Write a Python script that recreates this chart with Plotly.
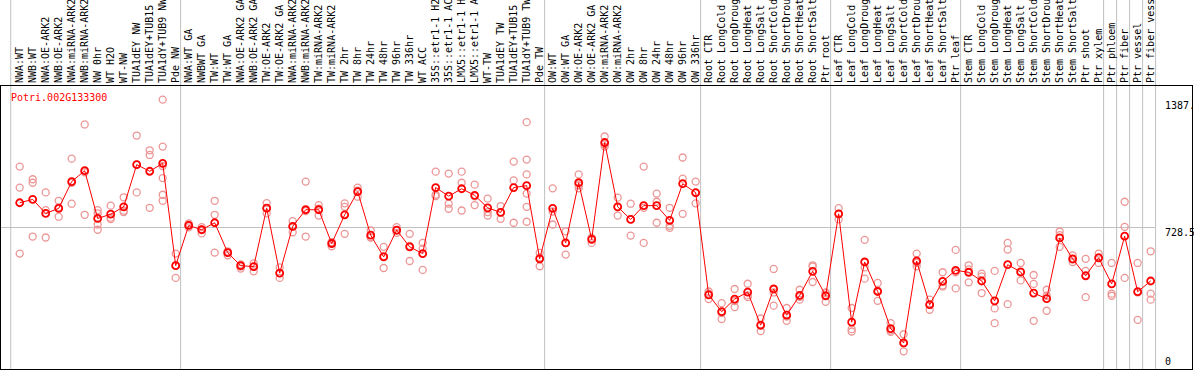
import plotly.graph_objects as go

gene_id = "Potri.002G133300"

categories = [
    "NWA:WT", "NWB:WT", "NWA:OE-ARK2", "NWB:OE-ARK2", "NWA:miRNA-ARK2", "NWB:miRNA-ARK2",
    "NW 0hr", "WT H2O", "WT-NW", "TUA1dEY NW", "TUA1dEY+TUB15 NW", "TUA1dY+TUB9 NW", "Pde NW",
    "NWA:WT GA", "NWBWT GA", "TW:WT", "TW:WT GA", "NWA:OE-ARK2 GA", "NWB:OE-ARK2 GA",
    "TW:OE-ARK2", "TW:OE-ARK2 GA", "NWA:miRNA-ARK2", "NWB:miRNA-ARK2", "TW:miRNA-ARK2",
    "TW:miRNA-ARK2", "TW 2hr", "TW 8hr", "TW 24hr", "TW 48hr", "TW 96hr", "TW 336hr",
    "WT ACC", "35S::etr1-1 H2O", "35S::etr1-1 ACC", "LMX5::etr1-1 H2O", "LMX5::etr1-1 ACC",
    "WT-TW", "TUA1dEY TW", "TUA1dEY+TUB15 TW", "TUA1dY+TUB9 TW", "Pde TW",
    "OW:WT", "OW:WT GA", "OW:OE-ARK2", "OW:OE-ARK2 GA", "OW:miRNA-ARK2", "OW:miRNA-ARK2",
    "OW 2hr", "OW 8hr", "OW 24hr", "OW 48hr", "OW 96hr", "OW 336hr",
    "Root CTR", "Root LongCold", "Root LongDrought", "Root LongHeat", "Root LongSalt",
    "Root ShortCold", "Root ShortDrought", "Root ShortHeat", "Root ShortSalt", "Ptr root",
    "Leaf CTR", "Leaf LongCold", "Leaf LongDrought", "Leaf LongHeat", "Leaf LongSalt",
    "Leaf ShortCold", "Leaf ShortDrought", "Leaf ShortHeat", "Leaf ShortSalt", "Ptr leaf",
    "Stem CTR", "Stem LongCold", "Stem LongDrought", "Stem LongHeat", "Stem LongSalt",
    "Stem ShortCold", "Stem ShortDrought", "Stem ShortHeat", "Stem ShortSalt", "Ptr shoot",
    "Ptr xylem", "Ptr phloem", "Ptr fiber", "Ptr vessel", "Ptr fiber vessel",
]

mean_values = [
    856, 873, 801, 827, 965, 1021, 775, 797, 835, 1052, 1018, 1059, 532,
    739, 717, 753, 599, 532, 527, 828, 494, 734, 820, 820, 646, 794, 913, 689, 577,
    715, 629, 594, 934, 890, 928, 894, 830, 806, 934, 944, 567,
    827, 649, 959, 667, 1166, 835, 770, 841, 841, 765, 954, 908,
    382, 295, 360, 396, 226, 412, 277, 379, 503, 377,
    799, 241, 551, 399, 208, 134, 556, 331, 451, 508,
    498, 453, 351, 537, 500, 391, 362, 675, 567, 480,
    572, 438, 684, 398, 453,
]

replicate_values = [
    [1042, 934, 594], [977, 959, 682], [909, 818, 677], [866, 784, 832],
    [1083, 851, 959], [1259, 1013, 794], [818, 801, 744, 717], [841, 779, 772],
    [884, 808, 815], [1202, 1052, 909], [1126, 1102, 830],
    [1387, 1145, 1045, 983, 897, 866], [594, 534, 469],
    [749, 739, 729], [730, 717, 698], [866, 794, 599], [606, 599, 585],
    [539, 527, 517], [544, 527, 503], [854, 828, 801], [523, 494, 469],
    [761, 734, 704], [965, 682, 813], [844, 790, 825], [653, 632, 653],
    [853, 835, 696], [934, 887, 918], [713, 678, 677], [629, 520, 582],
    [730, 701, 713], [696, 556, 634], [649, 620, 510], [1016, 897, 890],
    [1006, 851, 825], [1016, 959, 816], [949, 844, 889], [877, 808, 790],
    [839, 773, 806], [1068, 971, 753], [1271, 1078, 1002, 903, 835, 758],
    [598, 529, 574],
    [930, 811, 744], [709, 589, 649], [1002, 930, 946], [675, 649, 675],
    [1197, 1145, 1156], [882, 790, 834], [851, 687, 771], [1042, 649, 830],
    [903, 861, 753], [830, 727, 737], [1089, 980, 799], [965, 853, 906],
    [399, 360, 388], [339, 257, 288], [412, 319, 350], [439, 370, 379],
    [260, 195, 222], [515, 326, 394], [314, 248, 270], [408, 357, 372],
    [534, 448, 527], [394, 346, 391],
    [828, 770, 799], [314, 205, 193], [665, 465, 523], [443, 351, 405],
    [236, 191, 198], [179, 91, 133], [594, 529, 546], [357, 305, 331],
    [498, 430, 425], [613, 498, 415],
    [534, 446, 513], [491, 391, 477], [505, 312, 236], [649, 615, 334],
    [546, 456, 496], [484, 438, 248], [408, 300, 377], [708, 629, 689],
    [585, 551, 563], [567, 370, 505],
    [594, 546, 575], [546, 388, 377], [861, 732, 469], [546, 253, 394],
    [606, 388, 357],
]

# last category index of each group (a grey separator follows it)
group_ends = [12, 40, 52, 62, 72, 83, 84, 85, 86, 87]

axis_max_label = "1387."
axis_mid_value = 728.5
axis_top = 1457

W, H = 1194, 370
ml, mr, mt, mb = 1, 2, 86, 1
x_min, x_max = -1.438, 90.18

idx = list(range(len(categories)))

rep_x, rep_y = [], []
for i, reps in enumerate(replicate_values):
    for v in reps:
        rep_x.append(i)
        rep_y.append(v)

fig = go.Figure()
fig.add_trace(go.Scatter(
    x=rep_x, y=rep_y, mode="markers",
    marker=dict(symbol="circle-open", size=7, color="rgb(236,150,150)",
                line=dict(width=1.3)),
    hoverinfo="skip", showlegend=False, cliponaxis=False,
))
fig.add_trace(go.Scatter(
    x=idx, y=mean_values, mode="lines+markers",
    line=dict(color="#ff0000", width=1),
    marker=dict(symbol="circle-open", size=7, color="#ff0000",
                line=dict(width=1.8)),
    showlegend=False, cliponaxis=False,
))


def px_to_paper_x(i):
    return (i - x_min) / (x_max - x_min)


plot_h = H - mt - mb
top_paper = (H - mb) / plot_h  # paper y of figure top

shapes = []
sep_positions = [-0.69] + [g + 0.38 for g in group_ends]
for s in sep_positions:
    px = px_to_paper_x(s)
    shapes.append(dict(type="line", xref="paper", yref="paper",
                       x0=px, x1=px, y0=0, y1=top_paper,
                       line=dict(color="#c0c0c0", width=1), layer="below"))
# mid horizontal grey line
shapes.append(dict(type="line", xref="paper", yref="y",
                   x0=0, x1=px_to_paper_x(group_ends[-1] + 0.38),
                   y0=axis_mid_value, y1=axis_mid_value,
                   line=dict(color="#c0c0c0", width=1), layer="below"))

label_x = px_to_paper_x(87 + 0.38) + 7 / (W - ml - mr)
annotations = [
    dict(text=gene_id, xref="paper", yref="paper", x=8 / (W - ml - mr), y=(369 - 97) / plot_h,
         xanchor="left", yanchor="middle", showarrow=False,
         font=dict(family="DejaVu Sans Mono", size=10, color="#ff0000")),
    dict(text=axis_max_label, xref="paper", yref="y", x=label_x, y=1387, yshift=-6,
         xanchor="left", yanchor="middle", showarrow=False,
         font=dict(family="DejaVu Sans Mono", size=10, color="black")),
    dict(text=str(axis_mid_value), xref="paper", yref="y", x=label_x, y=axis_mid_value, yshift=-5,
         xanchor="left", yanchor="middle", showarrow=False,
         font=dict(family="DejaVu Sans Mono", size=10, color="black")),
    dict(text="0", xref="paper", yref="y", x=label_x, y=0, yshift=8,
         xanchor="left", yanchor="middle", showarrow=False,
         font=dict(family="DejaVu Sans Mono", size=10, color="black")),
]

fig.update_layout(
    width=W, height=H,
    margin=dict(l=ml, r=mr, t=mt, b=mb, pad=0),
    paper_bgcolor="white", plot_bgcolor="white",
    shapes=shapes, annotations=annotations,
    xaxis=dict(range=[x_min, x_max], side="top", tickmode="array",
               tickvals=idx, ticktext=categories, tickangle=-90,
               tickfont=dict(family="DejaVu Sans Mono", size=10, color="black"),
               showgrid=False, zeroline=False, ticks="", ticklen=0,
               showline=True, linecolor="black", linewidth=1, mirror=True,
               automargin=False, fixedrange=True),
    yaxis=dict(range=[0, axis_top], showticklabels=False, showgrid=False,
               zeroline=False, ticks="", showline=True, linecolor="black",
               linewidth=1, mirror=True, automargin=False, fixedrange=True),
    font=dict(family="DejaVu Sans Mono", size=10),
)

fig.write_html(
    "out.html",
    config={"displayModeBar": False},
    post_script="document.body.style.margin='0px';document.body.style.overflow='hidden';",
)
